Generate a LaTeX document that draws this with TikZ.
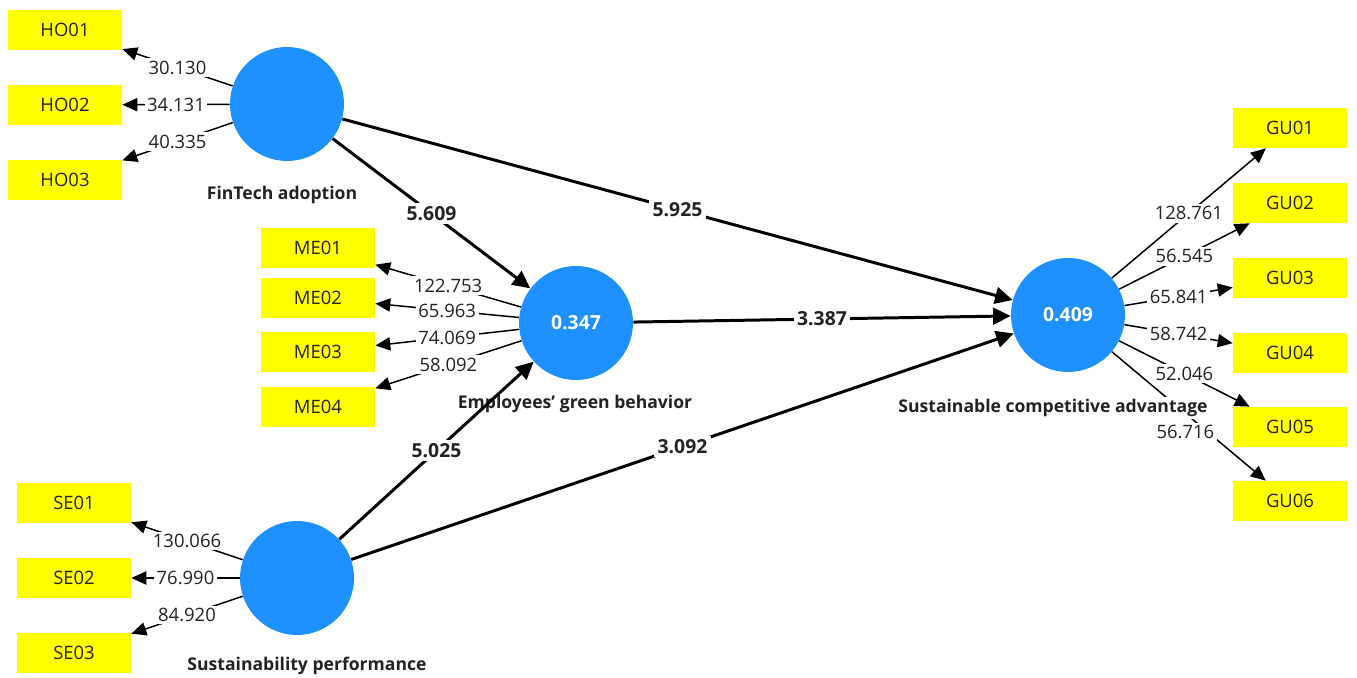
\documentclass[tikz,border=0pt]{standalone}
\usepackage{fontspec}
\setmainfont{Open Sans}
\usetikzlibrary{arrows.meta}
\definecolor{plsblue}{RGB}{30,144,255}
\definecolor{plsyellow}{RGB}{255,255,0}
\definecolor{plsink}{RGB}{35,35,35}

\begin{document}
\begin{tikzpicture}[x=0.02cm,y=-0.02cm,
    latent/.style={circle,fill=plsblue,minimum size=2.28cm,inner sep=0pt,text=white,font=\bfseries\fontsize{11}{12}\selectfont},
    item/.style={rectangle,fill=plsyellow,minimum width=2.28cm,minimum height=0.8cm,inner sep=0pt,text=plsink,font=\fontsize{10.5}{12}\selectfont},
    lvname/.style={fill=white,inner sep=1pt,text=plsink,font=\bfseries\fontsize{10}{12}\selectfont},
    path/.style={line width=1.7pt,-{Triangle[length=10pt,width=9.5pt]}},
    load/.style={line width=0.85pt,-{Triangle[length=8.5pt,width=7.5pt]}},
    pathval/.style={midway,fill=white,inner sep=2pt,text=plsink,font=\bfseries\fontsize{11}{12}\selectfont},
    loadval/.style={midway,fill=white,inner sep=1.5pt,text=plsink,font=\fontsize{10.5}{12}\selectfont}]
    \path[use as bounding box,fill=white] (0,0) rectangle (1357,678);

    % latent variables
    \node[latent] (fin) at (287,104) {};
    \node[latent] (emp) at (576,323) {0.347};
    \node[latent] (sus) at (297,578) {};
    \node[latent] (sca) at (1068,315) {0.409};

    % indicators
    \node[item] (ho1) at (65,30) {HO01};
    \node[item] (ho2) at (65,105) {HO02};
    \node[item] (ho3) at (65,180) {HO03};
    \node[item] (me1) at (318,248) {ME01};
    \node[item] (me2) at (318,298) {ME02};
    \node[item] (me3) at (318,352) {ME03};
    \node[item] (me4) at (318,407) {ME04};
    \node[item] (se1) at (74,503) {SE01};
    \node[item] (se2) at (74,578) {SE02};
    \node[item] (se3) at (74,653) {SE03};
    \node[item] (gu1) at (1290,128) {GU01};
    \node[item] (gu2) at (1290,203) {GU02};
    \node[item] (gu3) at (1290,278) {GU03};
    \node[item] (gu4) at (1290,353) {GU04};
    \node[item] (gu5) at (1290,427) {GU05};
    \node[item] (gu6) at (1290,501) {GU06};

    % outer loadings
    \draw[load] (fin) -- (ho1) node[loadval] (l-ho1) {30.130};
    \draw[load] (fin) -- (ho2) node[loadval] (l-ho2) {34.131};
    \draw[load] (fin) -- (ho3) node[loadval] (l-ho3) {40.335};
    \draw[load] (emp) -- (me1) node[loadval] (l-me1) {122.753};
    \draw[load] (emp) -- (me2) node[loadval] (l-me2) {65.963};
    \draw[load] (emp) -- (me3) node[loadval] (l-me3) {74.069};
    \draw[load] (emp) -- (me4) node[loadval] (l-me4) {58.092};
    \draw[load] (sus) -- (se1) node[loadval] (l-se1) {130.066};
    \draw[load] (sus) -- (se2) node[loadval] (l-se2) {76.990};
    \draw[load] (sus) -- (se3) node[loadval] (l-se3) {84.920};
    \draw[load] (sca) -- (gu1) node[loadval] (l-gu1) {128.761};
    \draw[load] (sca) -- (gu2) node[loadval] (l-gu2) {56.545};
    \draw[load] (sca) -- (gu3) node[loadval] (l-gu3) {65.841};
    \draw[load] (sca) -- (gu4) node[loadval] (l-gu4) {58.742};
    \draw[load] (sca) -- (gu5) node[loadval] (l-gu5) {52.046};
    \draw[load] (sca) -- (gu6) node[loadval,yshift=-9pt,xshift=-2pt] (l-gu6) {56.716};

    % latent names
    \node[lvname] (fin-name) at (282,195) {FinTech adoption};
    \node[lvname] (emp-name) at (575,404) {Employees' green behavior};
    \node[lvname] (sus-name) at (307,666) {Sustainability performance};
    \node[lvname] (sca-name) at (1053,408) {Sustainable competitive advantage};

    % inner model
    \draw[path] (fin) -- (emp) node[pathval] (p-fe) {5.609};
    \draw[path] (fin) -- (sca) node[pathval] (p-fs) {5.925};
    \draw[path] (emp) -- (sca) node[pathval] (p-es) {3.387};
    \draw[path] (sus) -- (emp) node[pathval] (p-se) {5.025};
    \draw[path] (sus) -- (sca) node[pathval] (p-ss) {3.092};
\end{tikzpicture}
\end{document}
